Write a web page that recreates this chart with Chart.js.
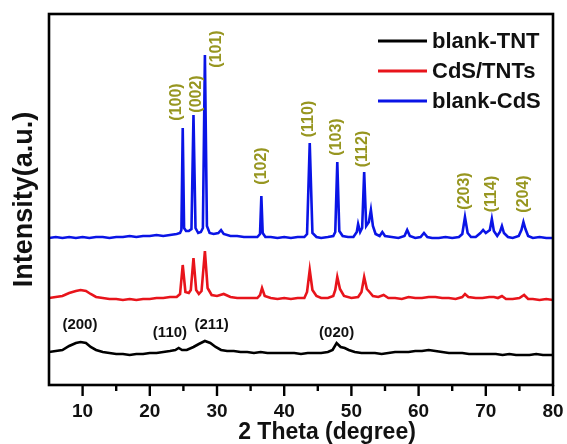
<!DOCTYPE html>
<html>
<head>
<meta charset="utf-8">
<script src="https://cdn.jsdelivr.net/npm/chart.js@4.4.0/dist/chart.umd.min.js"></script>
<style>
  body{margin:0;background:#fff;}
  canvas{display:block;}
</style>
</head>
<body>
<canvas id="xrdChart" width="567" height="444"></canvas>
<script>
// series: [2theta, intensity] (a.u., traces already offset)
const blankTNT = [[5,33],[6,34],[7,35],[8,39],[9,42],[9.7,43],[10.5,42],[11.2,38],[12,35],[13,33],[14,32],[15,31],[16,31],[17,30],[18,31],[19,31],[20,32],[21,32],[22,33],[23,34],[23.8,35],[24.3,37],[24.8,35],[25.5,35],[26.5,38],[27.3,41],[28.2,44],[29,42],[29.8,38],[30.6,35],[31.5,34],[32.5,34],[33.5,33],[34.5,33],[35.5,32],[36.5,33],[37.5,32],[38.5,32],[39.5,32],[40.5,32],[41.5,32],[42.5,31],[43.5,32],[44.5,32],[45.5,32],[46.5,33],[47.2,35],[47.8,42],[48.4,38],[49,37],[49.6,35],[50.5,33],[51.5,32],[52.5,32],[53.5,32],[54.5,31],[55.5,32],[56.5,33],[57.5,33],[58.5,33],[59.5,34],[60.5,34],[61.5,35],[62.5,34],[63.5,33],[64.5,32],[65.5,32],[66.5,32],[67.5,31],[68.5,31],[69.5,31],[70.5,31],[71.5,31],[72.5,30],[73.5,31],[74.5,30],[75.5,30],[76.5,30],[77.5,31],[78.5,30],[79.5,30],[80,30]];
const cdsTNTs = [[5,87],[6,88],[7,89],[8,92],[9,94],[9.7,95],[10.5,94],[11.2,91],[12,88],[13,87],[14,86],[15,86],[16,85],[17,86],[18,85],[19,86],[20,86],[21,87],[22,87],[23,88],[24,88],[24.5,91],[24.9,120],[25.3,93],[25.8,92],[26.1,95],[26.5,127],[26.9,95],[27.3,91],[27.7,94],[28.2,134],[28.6,97],[29.2,90],[30,89],[31,91],[32,88],[33,87],[34,87],[35,87],[36,87],[36.4,90],[36.7,97],[37.1,89],[38,87],[39,86],[40,87],[41,86],[42,87],[43,87],[43.4,93],[43.8,115],[44.2,95],[44.8,89],[45.5,87],[46.5,87],[47.3,89],[47.6,95],[47.9,108],[48.3,96],[48.9,89],[50,87],[51,88],[51.5,93],[51.9,108],[52.3,96],[52.7,93],[53.2,89],[54,88],[54.8,90],[55.5,87],[56.5,87],[57.5,86],[58.5,88],[59.5,87],[60.5,87],[61.5,88],[62.5,88],[63.5,87],[64.5,87],[65.5,86],[66.5,88],[66.9,91],[67.4,88],[68.5,87],[69.5,87],[70.5,88],[71.2,88],[71.8,87],[72.4,89],[73,86],[74,86],[75,87],[75.7,90],[76.3,86],[77,86],[78,85],[79,86],[80,85]];
const blankCdS = [[5,147],[6,148],[7,147],[8,148],[9,147],[10,148],[11,147],[12,148],[13,148],[14,147],[15,148],[16,148],[17,149],[18,148],[19,149],[20,149],[21,150],[22,149],[23,150],[24,151],[24.5,152],[24.7,155],[24.9,257],[25.1,157],[25.4,154],[25.8,154],[26.2,156],[26.5,270],[26.8,157],[27.2,152],[27.6,153],[27.9,157],[28.2,330],[28.5,159],[28.9,152],[29.5,151],[30.2,152],[30.6,155],[31,151],[32,149],[33,149],[34,148],[35,148],[36,148],[36.4,151],[36.6,189],[36.8,152],[37.2,148],[38,148],[39,147],[40,148],[41,147],[42,148],[43,148],[43.4,151],[43.8,242],[44.2,152],[44.8,148],[45.5,147],[46.5,148],[47.3,149],[47.6,153],[47.9,223],[48.2,154],[48.7,149],[49.5,148],[50.3,148],[50.8,153],[51,161],[51.3,153],[51.6,157],[51.9,213],[52.2,159],[52.6,163],[52.9,175],[53.2,159],[53.6,151],[54.2,149],[54.6,153],[55,149],[56,148],[57,147],[57.9,149],[58.3,155],[58.7,149],[59.5,147],[60.3,148],[60.8,152],[61.3,148],[62,147],[63,147],[64,148],[65,147],[66,148],[66.5,151],[66.9,168],[67.3,152],[67.8,148],[68.5,148],[69.2,152],[69.6,155],[70,152],[70.6,155],[70.9,166],[71.2,154],[71.7,149],[72.1,153],[72.4,159],[72.7,152],[73.3,148],[74,147],[74.9,149],[75.3,155],[75.6,163],[75.9,156],[76.3,149],[77,147],[78,148],[79,147],[80,147]];

const seriesNames = ['blank-TNT', 'CdS/TNTs', 'blank-CdS'];
const seriesColors = ['#000000', '#e8141b', '#0a14e6'];

// hkl labels: [text, 2theta, intensity]
const cdsPeakLabels = [['(100)',24.0,283],['(002)',26.95,291],['(101)',29.9,336],['(102)',36.6,219],['(110)',43.6,266],['(103)',47.8,248],['(112)',51.7,236],['(203)',66.9,194],['(114)',70.9,191],['(204)',75.6,191]];
const tntPeakLabels = [['(200)',9.6,60],['(110)',23.0,52],['(211)',29.2,60],['(020)',47.8,52]];

const xTicks = [5,10,15,20,25,30,35,40,45,50,55,60,65,70,75,80];

const FONT = '"Liberation Sans", Arial, sans-serif';

const toXY = arr => arr.map(p => ({x: p[0], y: p[1]}));

const framePlugin = {
  id: 'frame',
  afterDraw(chart) {
    const c = chart.ctx;
    const a = chart.chartArea;
    const xs = chart.scales.x;
    const ys = chart.scales.y;
    c.save();
    // box
    c.strokeStyle = '#000';
    c.lineWidth = 2.6;
    c.strokeRect(a.left, a.top, a.right - a.left, a.bottom - a.top);
    // x ticks, outward
    c.lineWidth = 2.4;
    xTicks.forEach(v => {
      if (v === 5) return;
      const px = xs.getPixelForValue(v);
      const len = v % 10 === 0 ? 11 : 6;
      c.beginPath();
      c.moveTo(px, a.bottom);
      c.lineTo(px, a.bottom + len);
      c.stroke();
    });
    // x title
    c.fillStyle = '#111';
    c.font = 'bold 23px ' + FONT;
    c.textAlign = 'center';
    c.textBaseline = 'middle';
    c.fillText('2 Theta (degree)', 327, 433);
    // peak labels
    c.fillStyle = '#979620';
    c.font = 'bold 16px ' + FONT;
    cdsPeakLabels.forEach(l => {
      const px = xs.getPixelForValue(l[1]);
      const py = ys.getPixelForValue(l[2]);
      c.save();
      c.translate(px, py);
      c.rotate(-Math.PI / 2);
      c.fillText(l[0], 0, 0);
      c.restore();
    });
    c.fillStyle = '#111';
    c.font = 'bold 15px ' + FONT;
    tntPeakLabels.forEach(l => {
      c.fillText(l[0], xs.getPixelForValue(l[1]), ys.getPixelForValue(l[2]));
    });
    // legend
    c.textAlign = 'left';
    c.font = 'bold 22px ' + FONT;
    chart.data.datasets.forEach((ds, i) => {
      const y = 41 + i * 30;
      c.strokeStyle = ds.borderColor;
      c.lineWidth = 3;
      c.beginPath();
      c.moveTo(378, y);
      c.lineTo(427, y);
      c.stroke();
      c.fillStyle = '#111';
      c.fillText(ds.label, 432, y + 1);
    });
    c.restore();
  }
};

const ctx = document.getElementById('xrdChart');
const xrdChart = new Chart(ctx, {
  type: 'line',
  data: {
    datasets: [blankTNT, cdsTNTs, blankCdS].map((d, i) => ({
      label: seriesNames[i],
      data: toXY(d),
      borderColor: seriesColors[i],
      borderWidth: 2.6,
      pointRadius: 0,
      tension: 0,
      fill: false
    }))
  },
  options: {
    responsive: false,
    animation: false,
    events: [],
    layout: {padding: {top: 14, right: 14, left: 0, bottom: 0}},
    plugins: {legend: {display: false}, tooltip: {enabled: false}},
    scales: {
      x: {
        type: 'linear',
        min: 5,
        max: 80,
        afterBuildTicks: s => { s.ticks = xTicks.map(v => ({value: v})); },
        afterFit: s => { s.height = 59; s.paddingLeft = 0; s.paddingRight = 0; },
        grid: {display: false, drawTicks: false},
        border: {display: false},
        ticks: {
          autoSkip: false,
          maxRotation: 0,
          padding: 15,
          color: '#111',
          font: {family: FONT, size: 19, weight: 'bold'},
          callback: v => (v % 10 === 0 ? v : '')
        }
      },
      y: {
        min: 0,
        max: 371,
        afterFit: s => { s.width = 49; s.paddingTop = 0; s.paddingBottom = 0; },
        grid: {display: false},
        border: {display: false},
        ticks: {display: false},
        title: {
          display: true,
          text: 'Intensity(a.u.)',
          color: '#111',
          padding: {top: 8, bottom: 0},
          font: {family: FONT, size: 27, weight: 'bold'}
        }
      }
    }
  },
  plugins: [framePlugin]
});
</script>
</body>
</html>
